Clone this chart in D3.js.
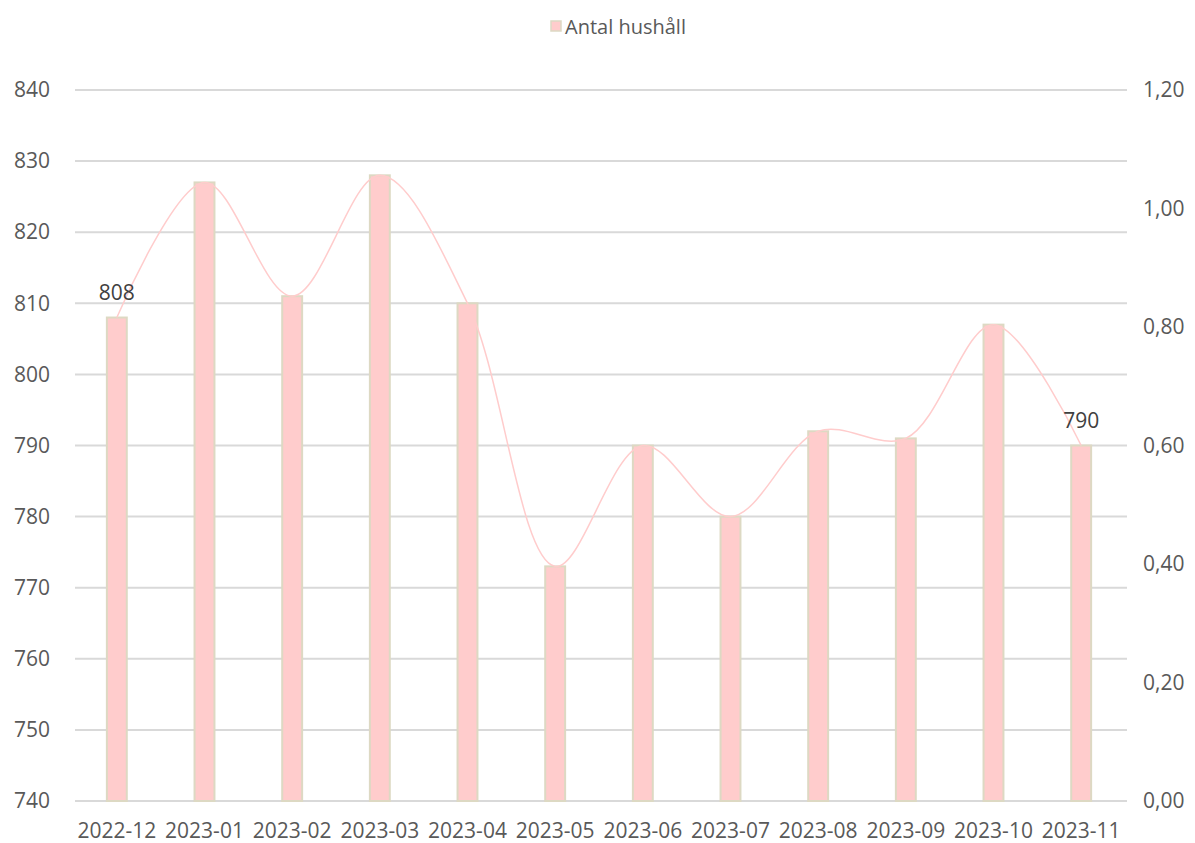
<!DOCTYPE html>
<html>
<head>
<meta charset="utf-8">
<script src="https://cdn.jsdelivr.net/npm/d3@7"></script>
<style>
  html, body { margin: 0; padding: 0; background: #fff; }
  svg { display: block; font-family: "Open Sans", "Noto Sans", sans-serif; }
</style>
</head>
<body>
<svg id="chart" width="1195" height="843"></svg>
<script>
// Monthly number of households
const months = ["2022-12","2023-01","2023-02","2023-03","2023-04","2023-05","2023-06","2023-07","2023-08","2023-09","2023-10","2023-11"];
const households = [808, 827, 811, 828, 810, 773, 790, 780, 792, 791, 807, 790];
const leftTicks = [740, 750, 760, 770, 780, 790, 800, 810, 820, 830, 840];
const rightTicks = [0, 0.2, 0.4, 0.6, 0.8, 1.0, 1.2];
const seriesName = "Antal hushåll";
// Only the first and last points carry a value label
const labelled = [0, months.length - 1];

(function () {
const svg = d3.select("#chart");
const plotLeft = 75, plotRight = 1127, plotTop = 90, plotBottom = 801;
const fontSize = 21;

const x = d3.scaleBand().domain(months).range([plotLeft - 2, plotRight - 2]).paddingInner(0.75).paddingOuter(0.375);
const y = d3.scaleLinear().domain([740, 840]).range([plotBottom, plotTop]);
const y2 = d3.scaleLinear().domain([0, 1.2]).range([plotBottom, plotTop]);

const textColor = "#595959";

// Gridlines
svg.append("g").selectAll("line").data(leftTicks).join("line")
  .attr("x1", plotLeft).attr("x2", plotRight)
  .attr("y1", d => y(d)).attr("y2", d => y(d))
  .attr("stroke", "#d9d9d9").attr("stroke-width", 2);

// Left axis
const leftAxis = svg.append("g").attr("transform", `translate(${plotLeft - 25},0)`)
  .call(d3.axisLeft(y).tickValues(leftTicks).tickSize(0).tickPadding(0).tickFormat(d3.format("d")));
leftAxis.select(".domain").remove();
leftAxis.selectAll("text").attr("fill", textColor).attr("font-size", fontSize).attr("font-family", "Open Sans, sans-serif");

// Right axis
const rightAxis = svg.append("g").attr("transform", `translate(${plotRight + 16},0)`)
  .call(d3.axisRight(y2).tickValues(rightTicks).tickSize(0).tickPadding(0)
    .tickFormat(d => d3.format(".2f")(d).replace(".", ",")));
rightAxis.select(".domain").remove();
rightAxis.selectAll("text").attr("fill", textColor).attr("font-size", fontSize).attr("font-family", "Open Sans, sans-serif");

// Bottom axis
const bottomAxis = svg.append("g").attr("transform", `translate(0,${plotBottom + 22})`)
  .call(d3.axisBottom(x).tickSize(0).tickPadding(0));
bottomAxis.select(".domain").remove();
bottomAxis.selectAll("text").attr("fill", textColor).attr("font-size", fontSize).attr("font-family", "Open Sans, sans-serif");

// Bars
svg.append("g").selectAll("rect").data(households).join("rect")
  .attr("x", (d, i) => x(months[i]) + 1)
  .attr("y", d => y(d))
  .attr("width", x.bandwidth() - 2)
  .attr("height", d => plotBottom - y(d))
  .attr("fill", "#ffcccc")
  .attr("stroke", "#ddd9c3")
  .attr("stroke-width", 2);

// Smoothed line through the same values
const line = d3.line()
  .x((d, i) => x(months[i]) + x.bandwidth() / 2)
  .y(d => y(d))
  .curve(d3.curveCatmullRom.alpha(0.5));
svg.append("path").datum(households)
  .attr("d", line)
  .attr("fill", "none")
  .attr("stroke", "#ffcccc")
  .attr("stroke-width", 1.5);

// Value labels
svg.append("g").selectAll("text").data(labelled).join("text")
  .attr("x", i => x(months[i]) + x.bandwidth() / 2)
  .attr("y", i => y(households[i]) - 18)
  .attr("text-anchor", "middle")
  .attr("fill", "#404040")
  .attr("font-size", fontSize)
  .text(i => households[i]);

// Legend
const legend = svg.append("g").attr("transform", "translate(551,21)");
legend.append("rect").attr("x", 0).attr("y", 0).attr("width", 10).attr("height", 10)
  .attr("fill", "#ffcccc").attr("stroke", "#ddd9c3").attr("stroke-width", 1.5);
legend.append("text").attr("x", 14).attr("y", 13).attr("fill", textColor)
  .attr("font-size", 20).text(seriesName);
})();
</script>
</body>
</html>
